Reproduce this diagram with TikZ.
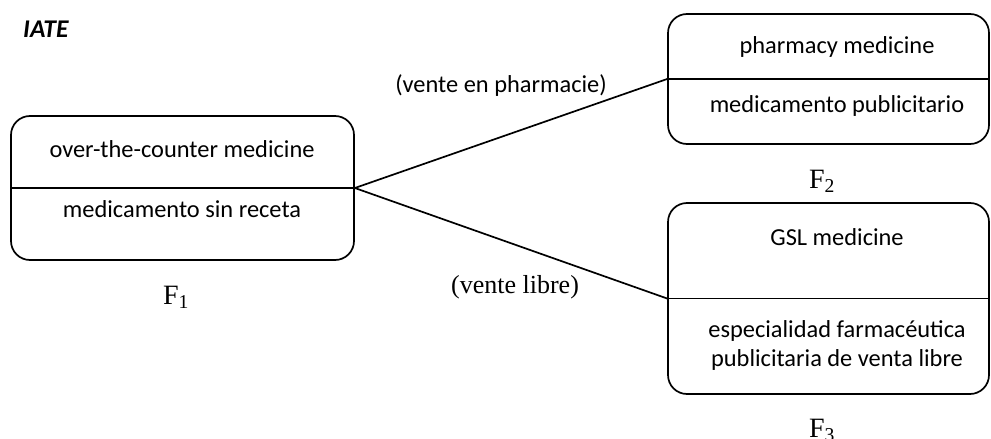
\documentclass[tikz,border=0pt]{standalone}
\usepackage{fontspec}
\setmainfont{Carlito}
\newfontfamily\tnr{Liberation Serif}
\begin{document}
\begin{tikzpicture}[x=1pt,y=-1pt,
  termbox/.style={draw,line width=1.7pt,rounded corners=19pt,inner sep=0pt},
  sanslbl/.style={font=\fontsize{24.4}{29}\selectfont,anchor=base,inner sep=0pt},
  serlbl/.style={font=\tnr\fontsize{26}{29}\selectfont,anchor=base,inner sep=0pt},
  flbl/.style={font=\tnr\fontsize{28}{30}\selectfont,anchor=base,inner sep=0pt},
  link/.style={line width=1.7pt}]
\useasboundingbox (0,0) rectangle (991,439);
% boxes
\node[termbox,minimum width=343pt,minimum height=144pt] (f1) at (182.5,188) {};
\node[termbox,minimum width=321pt,minimum height=130pt] (f2) at (828.5,79) {};
\node[termbox,minimum width=321pt,minimum height=191pt] (f3) at (828.5,298.5) {};
\draw[link] (f1.west) -- (f1.east);
\draw[link] (f2.west) -- (f2.east);
\draw[link] (f3.west) -- (f3.east);
% connectors
\draw[link] (f1.east) -- (f2.west);
\draw[link] (f1.east) -- (f3.west);
% texts
\node[sanslbl,font=\fontsize{25.5}{28}\selectfont\bfseries\itshape,anchor=base west] (iate) at (23,37) {IATE};
\node[sanslbl] (t1a) at (182,157) {over-the-counter medicine};
\node[sanslbl] (t1b) at (182,217) {medicamento sin receta};
\node[sanslbl] (t2a) at (837,53) {pharmacy medicine};
\node[sanslbl] (t2b) at (837,112) {medicamento publicitario};
\node[sanslbl] (t3a) at (837,245) {GSL medicine};
\node[sanslbl] (t3b) at (837,337) {especialidad farmacéutica};
\node[sanslbl] (t3c) at (837,366) {publicitaria de venta libre};
\node[sanslbl] (lp) at (501,92) {(vente en pharmacie)};
\node[serlbl] (ll) at (515,293) {(vente libre)};
\node[flbl] (n1) at (176,304) {F\textsubscript{1}};
\node[flbl] (n2) at (822,188) {F\textsubscript{2}};
\node[flbl] (n3) at (822,437) {F\textsubscript{3}};
\end{tikzpicture}
\end{document}
